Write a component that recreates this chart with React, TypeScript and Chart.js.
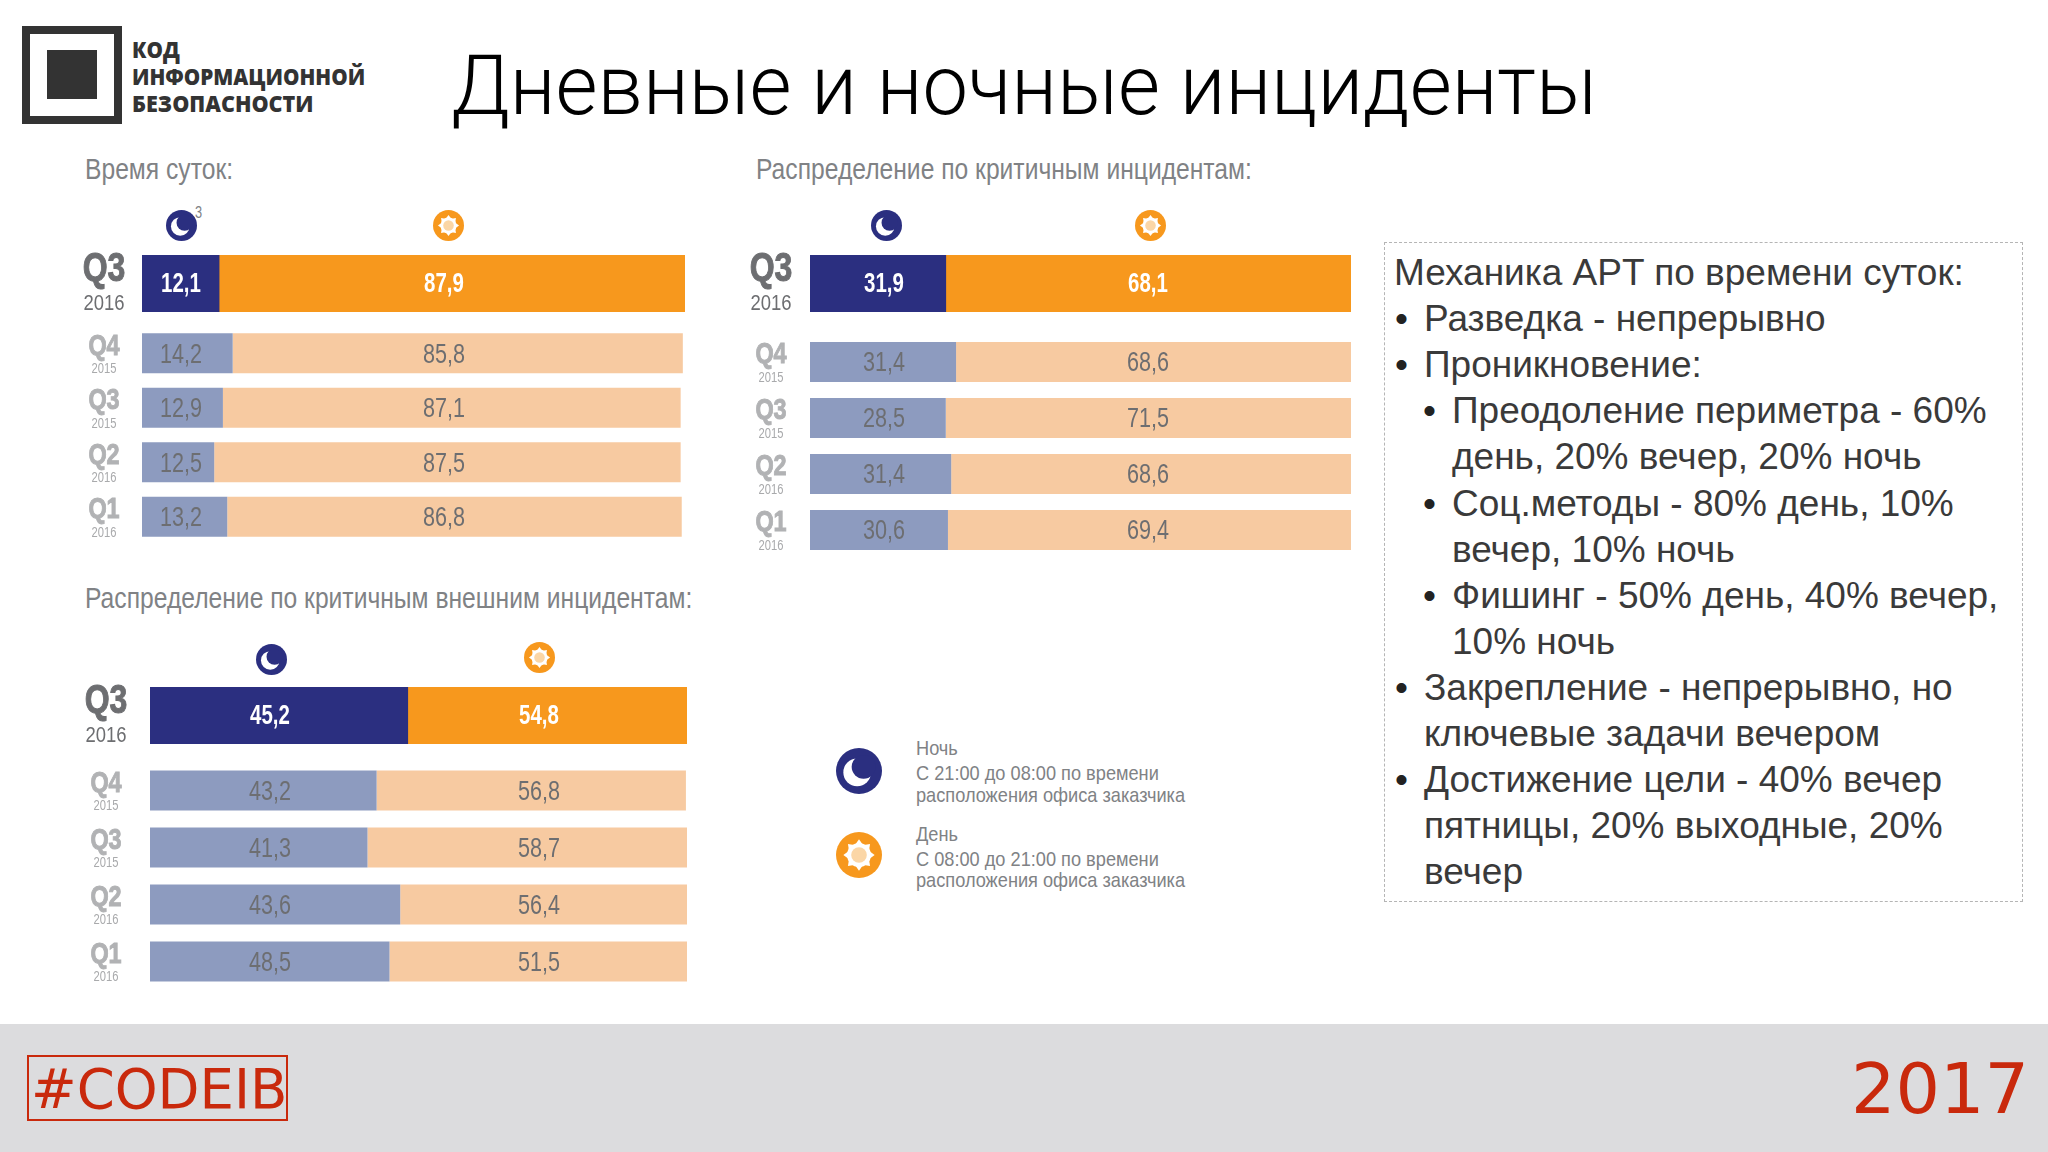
import Chart from "chart.js/auto";
import { useEffect, useRef } from "react";

const quarters = ["Q3", "Q4", "Q3", "Q2", "Q1"];
const years = ["2016", "2015", "2015", "2016", "2016"];

// printed numbers
const timeNight = [12.1, 14.2, 12.9, 12.5, 13.2];
const timeDay = [87.9, 85.8, 87.1, 87.5, 86.8];
const critNight = [31.9, 31.4, 28.5, 31.4, 30.6];
const critDay = [68.1, 68.6, 71.5, 68.6, 69.4];
const extNight = [45.2, 43.2, 41.3, 43.6, 48.5];
const extDay = [54.8, 56.8, 58.7, 56.4, 51.5];

// the slide's bars are not to scale with its numbers, so lengths are read off separately
const timeNightBar = [14.2, 16.7, 14.9, 13.3, 15.7];
const timeDayBar = [85.8, 82.9, 84.3, 85.9, 83.7];
const critNightBar = [25.1, 27.0, 25.1, 26.1, 25.5];
const critDayBar = [74.9, 73.0, 74.9, 73.9, 74.5];
const extNightBar = [48.0, 42.2, 40.5, 46.6, 44.6];
const extDayBar = [52.0, 57.6, 59.5, 53.4, 55.4];

const boxLines = [
  { text: "Механика APT по времени суток:", level: 0 },
  { text: "Разведка - непрерывно", level: 1, bullet: true },
  { text: "Проникновение:", level: 1, bullet: true },
  { text: "Преодоление периметра - 60%", level: 2, bullet: true },
  { text: "день, 20% вечер, 20% ночь", level: 2 },
  { text: "Соц.методы - 80% день, 10%", level: 2, bullet: true },
  { text: "вечер, 10% ночь", level: 2 },
  { text: "Фишинг - 50% день, 40% вечер,", level: 2, bullet: true },
  { text: "10% ночь", level: 2 },
  { text: "Закрепление - непрерывно, но", level: 1, bullet: true },
  { text: "ключевые задачи вечером", level: 1 },
  { text: "Достижение цели - 40% вечер", level: 1, bullet: true },
  { text: "пятницы, 20% выходные, 20%", level: 1 },
  { text: "вечер", level: 1 },
];

// no condensed face is installed, so Liberation Sans gets squeezed horizontally
const NARROW = '"Liberation Sans", sans-serif';
const NAVY = "#2b2f80";
const ORANGE = "#f7981d";
const PALE_NAVY = "#8d9bbf";
const PALE_ORANGE = "#f7caa1";

const comma = (v: number) => v.toFixed(1).replace(".", ",");

function squeezed(ctx: CanvasRenderingContext2D, text: string, x: number, y: number, sx: number, heavy = false) {
  ctx.save();
  ctx.translate(x, y);
  ctx.scale(sx, 1);
  if (heavy) {
    ctx.strokeStyle = ctx.fillStyle;
    ctx.lineWidth = 1;
    ctx.strokeText(text, 0, 0);
  }
  ctx.fillText(text, 0, 0);
  ctx.restore();
}

// quarter + year at the left of each row, printed numbers on the bars
const rowText = {
  id: "rowText",
  afterDatasetsDraw(chart: any, _args: any, o: any) {
    const { ctx, scales } = chart;
    ctx.save();
    ctx.textAlign = "center";
    ctx.textBaseline = "middle";
    o.quarters.forEach((q: string, i: number) => {
      const y = scales.y.getPixelForValue(i);
      const x0 = scales.x.getPixelForValue(0);
      ctx.fillStyle = o.big ? "#6d6e71" : "#b1b2b4";
      ctx.font = `bold ${o.big ? 40 : 30}px ${NARROW}`;
      squeezed(ctx, q, x0 + o.qOffset, y + (o.big ? -14 : -7), o.big ? 0.8 : 0.78, true);
      ctx.fillStyle = o.big ? "#6d6e71" : "#a9aaac";
      ctx.font = `${o.big ? 22 : 14}px ${NARROW}`;
      squeezed(ctx, o.years[i], x0 + o.qOffset, y + (o.big ? 20 : 16), o.big ? 0.84 : 0.8);

      ctx.fillStyle = o.big ? "#ffffff" : "#6d6e71";
      ctx.font = `${o.big ? "bold 28" : "27"}px ${NARROW}`;
      const sx = o.big ? 0.73 : 0.8;
      const dy = o.big ? 1 : 2;
      squeezed(ctx, comma(o.night[i]), scales.x.getPixelForValue(o.nightAt), y + dy, sx);
      squeezed(ctx, comma(o.day[i]), scales.x.getPixelForValue(o.dayAt), y + dy, sx);
    });
    ctx.restore();
  },
};

function Bars(props: {
  left: number;
  top: number;
  width: number;
  height: number;
  gutter: number;
  pad: number;
  big: boolean;
  thickness: number;
  quarters: string[];
  years: string[];
  nightBar: number[];
  dayBar: number[];
  night: number[];
  day: number[];
  nightAt: number;
  dayAt: number;
  qOffset: number;
}) {
  const ref = useRef<HTMLCanvasElement>(null);

  useEffect(() => {
    if (!ref.current) return;
    const rowH = props.height / props.quarters.length;
    const chart = new Chart(ref.current, {
      type: "bar",
      data: {
        labels: props.quarters,
        datasets: [
          {
            label: "Ночь",
            data: props.nightBar,
            backgroundColor: props.big ? NAVY : PALE_NAVY,
          },
          {
            label: "День",
            data: props.dayBar,
            backgroundColor: props.big ? ORANGE : PALE_ORANGE,
          },
        ],
      },
      options: {
        indexAxis: "y",
        responsive: false,
        animation: false,
        datasets: {
          bar: {
            categoryPercentage: 1,
            barPercentage: props.thickness / rowH,
            borderWidth: 0,
          },
        },
        layout: {
          padding: { left: props.gutter, right: 0, top: props.pad, bottom: props.pad },
        },
        scales: {
          x: { stacked: true, display: false, min: 0, max: 100 },
          y: { stacked: true, display: false },
        },
        plugins: {
          legend: { display: false },
          tooltip: { enabled: false },
          rowText: {
            big: props.big,
            quarters: props.quarters,
            years: props.years,
            night: props.night,
            day: props.day,
            nightAt: props.nightAt,
            dayAt: props.dayAt,
            qOffset: props.qOffset,
          },
        },
      } as any,
      plugins: [rowText],
    });
    return () => chart.destroy();
  }, []);

  return (
    <canvas
      ref={ref}
      width={props.width + props.gutter}
      height={props.height + props.pad * 2}
      style={{
        position: "absolute",
        left: props.left - props.gutter,
        top: props.top - props.pad,
      }}
    />
  );
}

function Panel(p: {
  left: number;
  right: number;
  bigTop: number;
  rowsTop: number;
  rowStep: number;
  nightBar: number[];
  dayBar: number[];
  night: number[];
  day: number[];
  nightX: number;
  dayX: number;
  qOffset: number;
}) {
  const width = p.right - p.left;
  const shared = {
    left: p.left,
    width,
    gutter: 70,
    nightAt: ((p.nightX - p.left) / width) * 100,
    dayAt: ((p.dayX - p.left) / width) * 100,
    qOffset: p.qOffset,
  };
  return (
    <>
      <Bars
        {...shared}
        top={p.bigTop}
        height={57}
        pad={12}
        big
        thickness={57}
        quarters={quarters.slice(0, 1)}
        years={years.slice(0, 1)}
        nightBar={p.nightBar.slice(0, 1)}
        dayBar={p.dayBar.slice(0, 1)}
        night={p.night.slice(0, 1)}
        day={p.day.slice(0, 1)}
      />
      <Bars
        {...shared}
        top={p.rowsTop}
        height={p.rowStep * 4}
        pad={2}
        big={false}
        thickness={40}
        quarters={quarters.slice(1)}
        years={years.slice(1)}
        nightBar={p.nightBar.slice(1)}
        dayBar={p.dayBar.slice(1)}
        night={p.night.slice(1)}
        day={p.day.slice(1)}
      />
    </>
  );
}

function Moon({ x, y, r }: { x: number; y: number; r: number }) {
  return (
    <svg
      viewBox="-50 -50 100 100"
      width={r * 2}
      height={r * 2}
      style={{ position: "absolute", left: x - r, top: y - r }}
    >
      <circle r="50" fill={NAVY} />
      <circle cx="-4" cy="3" r="30" fill="#fff" />
      <circle cx="10" cy="-9" r="26" fill={NAVY} />
    </svg>
  );
}

function Sun({ x, y, r }: { x: number; y: number; r: number }) {
  const rays = [0, 45, 90, 135, 180, 225, 270, 315];
  return (
    <svg
      viewBox="-50 -50 100 100"
      width={r * 2}
      height={r * 2}
      style={{ position: "absolute", left: x - r, top: y - r }}
    >
      <circle r="50" fill={ORANGE} />
      {rays.map((a) => (
        <polygon key={a} points="-8,-23 8,-23 0,-34" fill="#fff" transform={`rotate(${a})`} />
      ))}
      <circle r="26" fill="#fff" />
      <circle r="17" fill="#fbd6a6" />
    </svg>
  );
}

function Text(p: { x: number; y: number; size: number; sx?: number; color?: string; font?: string; weight?: number; children: any }) {
  return (
    <div
      style={{
        position: "absolute",
        left: p.x,
        top: p.y,
        transform: `translateY(-50%) scaleX(${p.sx ?? 1})`,
        transformOrigin: "left center",
        fontFamily: p.font ?? NARROW,
        fontSize: p.size,
        fontWeight: p.weight ?? 400,
        color: p.color ?? "#808285",
        whiteSpace: "nowrap",
        lineHeight: 1,
      }}
    >
      {p.children}
    </div>
  );
}

const LIGHT = "Roboto, sans-serif";
const LOGO = '"Open Sans", sans-serif';
const PLAIN = '"Liberation Sans", sans-serif';

export default function App() {
  return (
    <div style={{ position: "relative", width: 2048, height: 1152, overflow: "hidden", background: "#fff" }}>
      <style>{"body{margin:0}"}</style>

      {/* logo */}
      <div style={{ position: "absolute", left: 22, top: 26, width: 100, height: 98, boxSizing: "border-box", border: "8px solid #333" }} />
      <div style={{ position: "absolute", left: 47, top: 50, width: 50, height: 49, background: "#333" }} />
      <Text x={132} y={49} size={22} sx={0.94} color="#333" font={LOGO} weight={800}>КОД</Text>
      <Text x={132} y={76} size={22} sx={0.94} color="#333" font={LOGO} weight={800}>ИНФОРМАЦИОННОЙ</Text>
      <Text x={132} y={103} size={22} sx={0.98} color="#333" font={LOGO} weight={800}>БЕЗОПАСНОСТИ</Text>

      <Text x={451} y={86} size={84} sx={0.967} color="#000" font={LIGHT} weight={300}>Дневные и ночные инциденты</Text>

      <Text x={85} y={169} size={29} sx={0.85}>Время суток:</Text>
      <Text x={756} y={169} size={29} sx={0.85}>Распределение по критичным инцидентам:</Text>
      <Text x={85} y={598} size={29} sx={0.85}>Распределение по критичным внешним инцидентам:</Text>

      <Moon x={181} y={225} r={15.5} />
      <Text x={195} y={213} size={16} sx={0.8}>3</Text>
      <Sun x={448} y={225} r={15.5} />
      <Moon x={886} y={225} r={15.5} />
      <Sun x={1150} y={225} r={15.5} />
      <Moon x={271} y={659} r={15.5} />
      <Sun x={539} y={657} r={15.5} />

      <Panel
        left={142}
        right={685}
        bigTop={255}
        rowsTop={326}
        rowStep={54.5}
        nightBar={timeNightBar}
        dayBar={timeDayBar}
        night={timeNight}
        day={timeDay}
        nightX={181}
        dayX={444}
        qOffset={-38}
      />
      <Panel
        left={810}
        right={1351}
        bigTop={255}
        rowsTop={334}
        rowStep={56}
        nightBar={critNightBar}
        dayBar={critDayBar}
        night={critNight}
        day={critDay}
        nightX={884}
        dayX={1148}
        qOffset={-39}
      />
      <Panel
        left={150}
        right={687}
        bigTop={687}
        rowsTop={762}
        rowStep={57}
        nightBar={extNightBar}
        dayBar={extDayBar}
        night={extNight}
        day={extDay}
        nightX={270}
        dayX={539}
        qOffset={-44}
      />

      {/* legend */}
      <Moon x={859} y={771} r={23} />
      <Sun x={859} y={855} r={23} />
      <Text x={916} y={747} size={21} sx={0.866}>Ночь</Text>
      <Text x={916} y={772} size={21} sx={0.866}>С 21:00 до 08:00 по времени</Text>
      <Text x={916} y={794} size={21} sx={0.866}>расположения офиса заказчика</Text>
      <Text x={916} y={833} size={21} sx={0.866}>День</Text>
      <Text x={916} y={858} size={21} sx={0.866}>С 08:00 до 21:00 по времени</Text>
      <Text x={916} y={879} size={21} sx={0.866}>расположения офиса заказчика</Text>

      {/* text box */}
      <div style={{ position: "absolute", left: 1384, top: 242, width: 639, height: 660, boxSizing: "border-box", border: "1px dashed #b5b5b5" }} />
      {boxLines.map((line, i) => {
        const textX = [1394, 1424, 1452][line.level];
        const y = 272 + i * 46.1;
        return (
          <div key={i}>
            {line.bullet && (
              <Text x={textX - 29} y={y} size={37} color="#222" font={PLAIN}>•</Text>
            )}
            <Text x={textX} y={y} size={37} color="#3a3a3a" font={PLAIN}>{line.text}</Text>
          </div>
        );
      })}

      {/* footer */}
      <div style={{ position: "absolute", left: 0, top: 1024, width: 2048, height: 128, background: "#dcdcde" }} />
      <div style={{ position: "absolute", left: 27, top: 1055, width: 261, height: 66, boxSizing: "border-box", border: "2px solid #c9290c" }} />
      <Text x={31} y={1089} size={54.5} color="#c9290c" font='"DejaVu Sans", sans-serif'>#CODEIB</Text>
      <Text x={1851} y={1089} size={70} color="#c9290c" font='"DejaVu Sans", sans-serif'>2017</Text>
    </div>
  );
}
